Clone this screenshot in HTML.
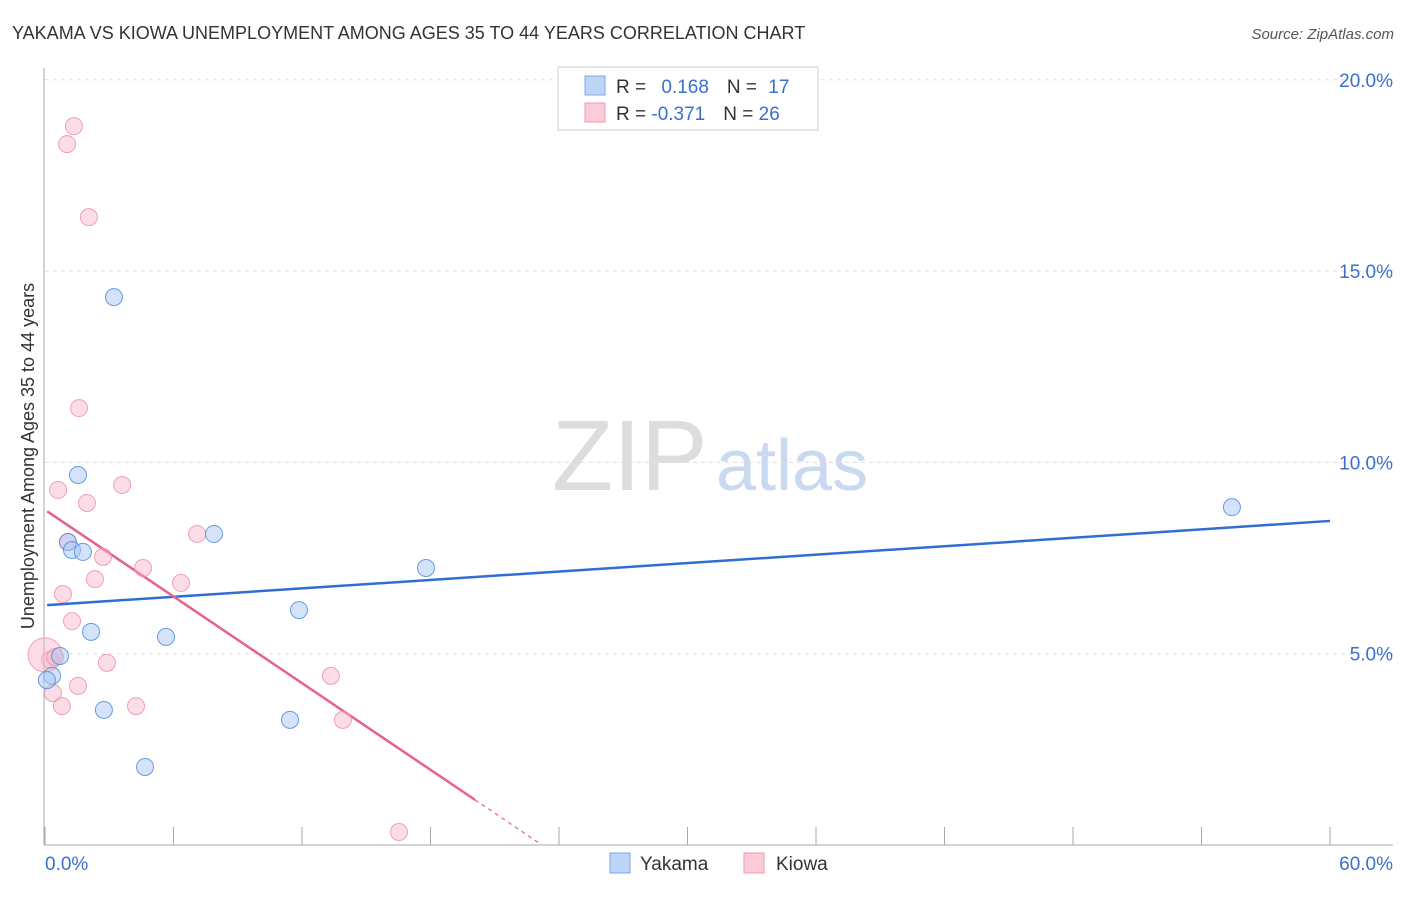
<!DOCTYPE html>
<html><head><meta charset="utf-8"><style>
body{margin:0;background:#fff;font-family:"Liberation Sans",sans-serif;}
svg text{font-family:"Liberation Sans",sans-serif;}
</style></head><body>
<svg id="chart" width="1406" height="892" viewBox="0 0 1406 892">
<text x="12" y="39" font-size="18" fill="#333">YAKAMA VS KIOWA UNEMPLOYMENT AMONG AGES 35 TO 44 YEARS CORRELATION CHART</text>
<text x="1394" y="39" font-size="15" fill="#555" font-style="italic" text-anchor="end">Source: ZipAtlas.com</text>
<g>
<text x="552" y="490" font-size="100" fill="#ddd" font-family="Liberation Serif, serif">ZIP</text>
<text x="716" y="490" font-size="72" fill="#c9d9ef">atlas</text>
</g>
<g id="grid"></g>
<line x1="44" y1="68" x2="44" y2="845" stroke="#aaa"/>
<line x1="44" y1="845" x2="1393" y2="845" stroke="#aaa"/>
<text x="34" y="456" font-size="18" fill="#333" text-anchor="middle" transform="rotate(-90 34 456)">Unemployment Among Ages 35 to 44 years</text>
<g id="trends"></g>
<g id="points"></g>
<g>
<rect x="558" y="67" width="260" height="63" fill="#fff" stroke="#ccc"/>
<rect x="585" y="76" width="20" height="19" fill="#bcd5f7" stroke="#7aa7e6"/>
<rect x="585" y="103" width="20" height="19" fill="#fbcbd8" stroke="#ef9ab2"/>
<text x="616" y="93" font-size="19" fill="#333">R = <tspan fill="#3a6fd0" dx="10">0.168</tspan><tspan dx="18" fill="#333">N = </tspan><tspan fill="#3a6fd0" dx="6">17</tspan></text>
<text x="616" y="120" font-size="19" fill="#333">R = <tspan fill="#3a6fd0">-0.371</tspan><tspan dx="18" fill="#333">N = </tspan><tspan fill="#3a6fd0">26</tspan></text>
</g>
<g>
<rect x="610" y="853" width="20" height="20" fill="#bcd5f7" stroke="#7aa7e6"/>
<text x="640" y="870" font-size="19" fill="#333">Yakama</text>
<rect x="744" y="853" width="20" height="20" fill="#fbcbd8" stroke="#ef9ab2"/>
<text x="776" y="870" font-size="19" fill="#333">Kiowa</text>
</g>
</svg>
<script>
const yTicks=[5,10,15,20];
const yTickLabels=["5.0%","10.0%","15.0%","20.0%"];
const xTicks=[0,6,12,18,24,30,36,42,48,54,60];
const xTickLabels=["0.0%","60.0%"];
const yakamaX=[3.22,1.54,7.89,1.07,1.26,1.77,17.79,11.86,2.15,5.65,0.70,0.33,0.09,2.75,11.44,4.67,55.42];
const yakamaY=[14.32,9.67,8.13,7.92,7.71,7.66,7.24,6.14,5.57,5.44,4.94,4.42,4.31,3.53,3.27,2.04,8.83];
const kiowaX=[1.35,1.03,2.05,1.59,0.61,3.60,1.96,7.10,1.07,2.71,4.58,2.33,6.35,0.84,1.26,0.23,2.89,1.54,0.37,0.79,4.25,13.35,13.91,16.53,0,0.47];
const kiowaY=[18.79,18.32,16.41,11.42,9.28,9.41,8.94,8.13,7.92,7.53,7.24,6.95,6.85,6.56,5.85,4.84,4.76,4.16,3.97,3.63,3.63,4.42,3.27,0.34,4.97,4.91];
const yakamaTrend=[6.27,8.47]; // y at x=0 and x=60
const kiowaTrend=[8.76,-0.3775]; // intercept, slope
const NS="http://www.w3.org/2000/svg";
const sx=v=>45+v*1285/60;
const sy=v=>845-v*38.26;
function mk(tag,attrs,parent){const e=document.createElementNS(NS,tag);for(const k in attrs)e.setAttribute(k,attrs[k]);parent.appendChild(e);return e;}
const grid=document.getElementById('grid');
yTicks.forEach((t,i)=>{
 const l=mk('line',{x1:45,x2:1393,y1:sy(t),y2:sy(t),stroke:'#ddd','stroke-dasharray':'4 4'},grid);
 
 
 const tx=mk('text',{x:1393,y:sy(t)+7,'font-size':19,fill:'#3a6fd0','text-anchor':'end'},grid);
 tx.textContent=yTickLabels[i];
 
 
});
xTicks.forEach(t=>{
 const l=mk('line',{x1:sx(t),x2:sx(t),y1:827,y2:845,stroke:'#aaa'},grid);
 
 
});
const xl0=mk('text',{x:45,y:870,'font-size':19,fill:'#3a6fd0'},grid);xl0.textContent=xTickLabels[0];


const xl1=mk('text',{x:1393,y:870,'font-size':19,fill:'#3a6fd0','text-anchor':'end'},grid);xl1.textContent=xTickLabels[1];


const pts=document.getElementById('points');
kiowaX.forEach((x,i)=>{
 const r=(x===0)?17:8.5;
 const c=mk('circle',{cx:sx(x),cy:sy(kiowaY[i]),r:r,fill:'rgba(248,180,200,0.45)',stroke:'rgba(236,140,170,0.8)','stroke-width':1},pts);
 
 
});
yakamaX.forEach((x,i)=>{
 const c=mk('circle',{cx:sx(x),cy:sy(yakamaY[i]),r:8.5,fill:'rgba(170,200,245,0.5)',stroke:'rgba(80,140,220,0.85)','stroke-width':1},pts);
 
 
});
const tr=document.getElementById('trends');
const bl=mk('line',{x1:sx(0.1),y1:sy(yakamaTrend[0]),x2:sx(60),y2:sy(yakamaTrend[1]),stroke:'#2f6fd3','stroke-width':2.5},tr);


const kf=x=>kiowaTrend[0]+kiowaTrend[1]*x;
const xEnd=20.08, xZero=-kiowaTrend[0]/kiowaTrend[1];
const pl=mk('line',{x1:sx(0.1),y1:sy(kf(0.1)),x2:sx(xEnd),y2:sy(kf(xEnd)),stroke:'#e5628e','stroke-width':2.5},tr);


const pd=mk('line',{x1:sx(xEnd),y1:sy(kf(xEnd)),x2:sx(xZero),y2:sy(0),stroke:'#e5628e','stroke-width':1.2,'stroke-dasharray':'4 4'},tr);


</script>
</body></html>
